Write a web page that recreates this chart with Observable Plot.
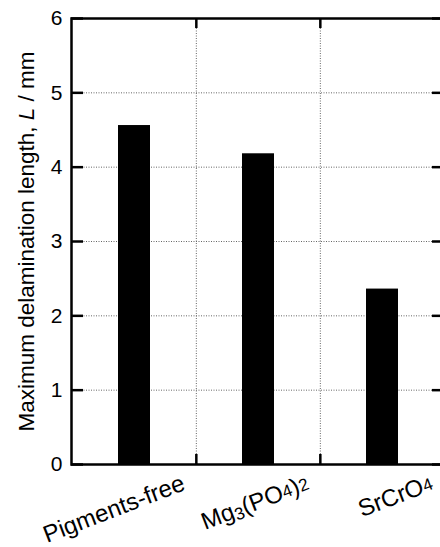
<!DOCTYPE html>
<html><head><meta charset="utf-8">
<script src="https://cdn.jsdelivr.net/npm/d3@7"></script>
<script src="https://cdn.jsdelivr.net/npm/@observablehq/plot@0.6"></script>
<style>
body{margin:0;background:#fff;}
#chart svg{font-family:"Liberation Sans",Arial,sans-serif;}
</style>
</head><body><div id="chart"></div>
<script>
const categories = ["Pigments-free", "Mg3(PO4)2", "SrCrO4"];
const values = [4.56, 4.18, 2.36];
const yTicks = [0, 1, 2, 3, 4, 5, 6];
const gridValues = [1, 2, 3, 4, 5];
const yLabel = "Maximum delamination length, L / mm";

const data = categories.map((c, i) => ({category: c, value: values[i]}));
const boundaries = categories.slice(1);

const W = 440, H = 547, mL = 71, mR = -4, mT = 18, mB = 83;
const frameW = W - mL - mR, frameH = H - mT - mB;
const half = frameW / categories.length / 2;
const yTickLen = 12, xTickLen = 10;

const chart = Plot.plot({
  width: W, height: H,
  marginLeft: mL, marginRight: mR, marginTop: mT, marginBottom: mB,
  style: {fontFamily: "Liberation Sans, Arial, sans-serif", background: "#fff", color: "#000"},
  x: {type: "band", domain: categories, padding: 0, axis: null},
  y: {domain: [0, 6]},
  marks: [
    Plot.gridY(gridValues, {stroke: "#666", strokeOpacity: 1, strokeWidth: 1, strokeDasharray: "1,1.5"}),
    Plot.ruleX(boundaries, {x: d => d, dx: -half, stroke: "#666", strokeWidth: 1, strokeDasharray: "1,1.5"}),
    Plot.barY(data, {x: "category", y: "value", fill: "#000", insetLeft: 46, insetRight: 46}),
    Plot.frame({stroke: "#000", strokeWidth: 2.5}),
    // inward ticks
    Plot.tickY(yTicks, {y: d => d, insetRight: frameW - yTickLen, stroke: "#000", strokeWidth: 2.5}),
    Plot.tickY(yTicks, {y: d => d, insetLeft: frameW - yTickLen, stroke: "#000", strokeWidth: 2.5}),
    Plot.tickX(boundaries, {x: d => d, dx: -half, insetBottom: frameH - xTickLen, stroke: "#000", strokeWidth: 2.5}),
    Plot.tickX(boundaries, {x: d => d, dx: -half, insetTop: frameH - xTickLen, stroke: "#000", strokeWidth: 2.5}),
    Plot.axisY(yTicks, {tickSize: 0, tickPadding: 9, fontSize: 21, label: null, tickFormat: d => String(d)}),
    Plot.text(categories, {x: d => d, frameAnchor: "bottom", dx: 52, dy: 25, rotate: -21, textAnchor: "end", lineAnchor: "bottom", fontSize: 24, fill: "#000"}),
    Plot.text([yLabel], {frameAnchor: "left", dx: -38, rotate: -90, lineAnchor: "bottom", textAnchor: "middle", fontSize: 22.5, fill: "#000"})
  ]
});

document.getElementById("chart").appendChild(chart);

// Chemical formula digits as small text; italic L in the axis title
d3.select(chart).selectAll("text")
  .filter(function() { return categories.includes(this.textContent); })
  .each(function() {
    const t = d3.select(this);
    const s = this.textContent;
    t.text(null);
    for (const ch of s) {
      if (/[0-9]/.test(ch)) {
        t.append("tspan").attr("font-size", "0.72em")
          .attr("baseline-shift", ch === "3" ? "-18%" : "8%").text(ch);
      } else {
        t.append("tspan").text(ch);
      }
    }
  });

d3.select(chart).selectAll("text")
  .filter(function() { return this.textContent === yLabel; })
  .each(function() {
    const t = d3.select(this);
    const [a, b] = yLabel.split(", L ");
    t.text(null);
    t.append("tspan").text(a + ", ");
    t.append("tspan").attr("font-style", "italic").text("L");
    t.append("tspan").text(" " + b);
  });
</script>
</body></html>
